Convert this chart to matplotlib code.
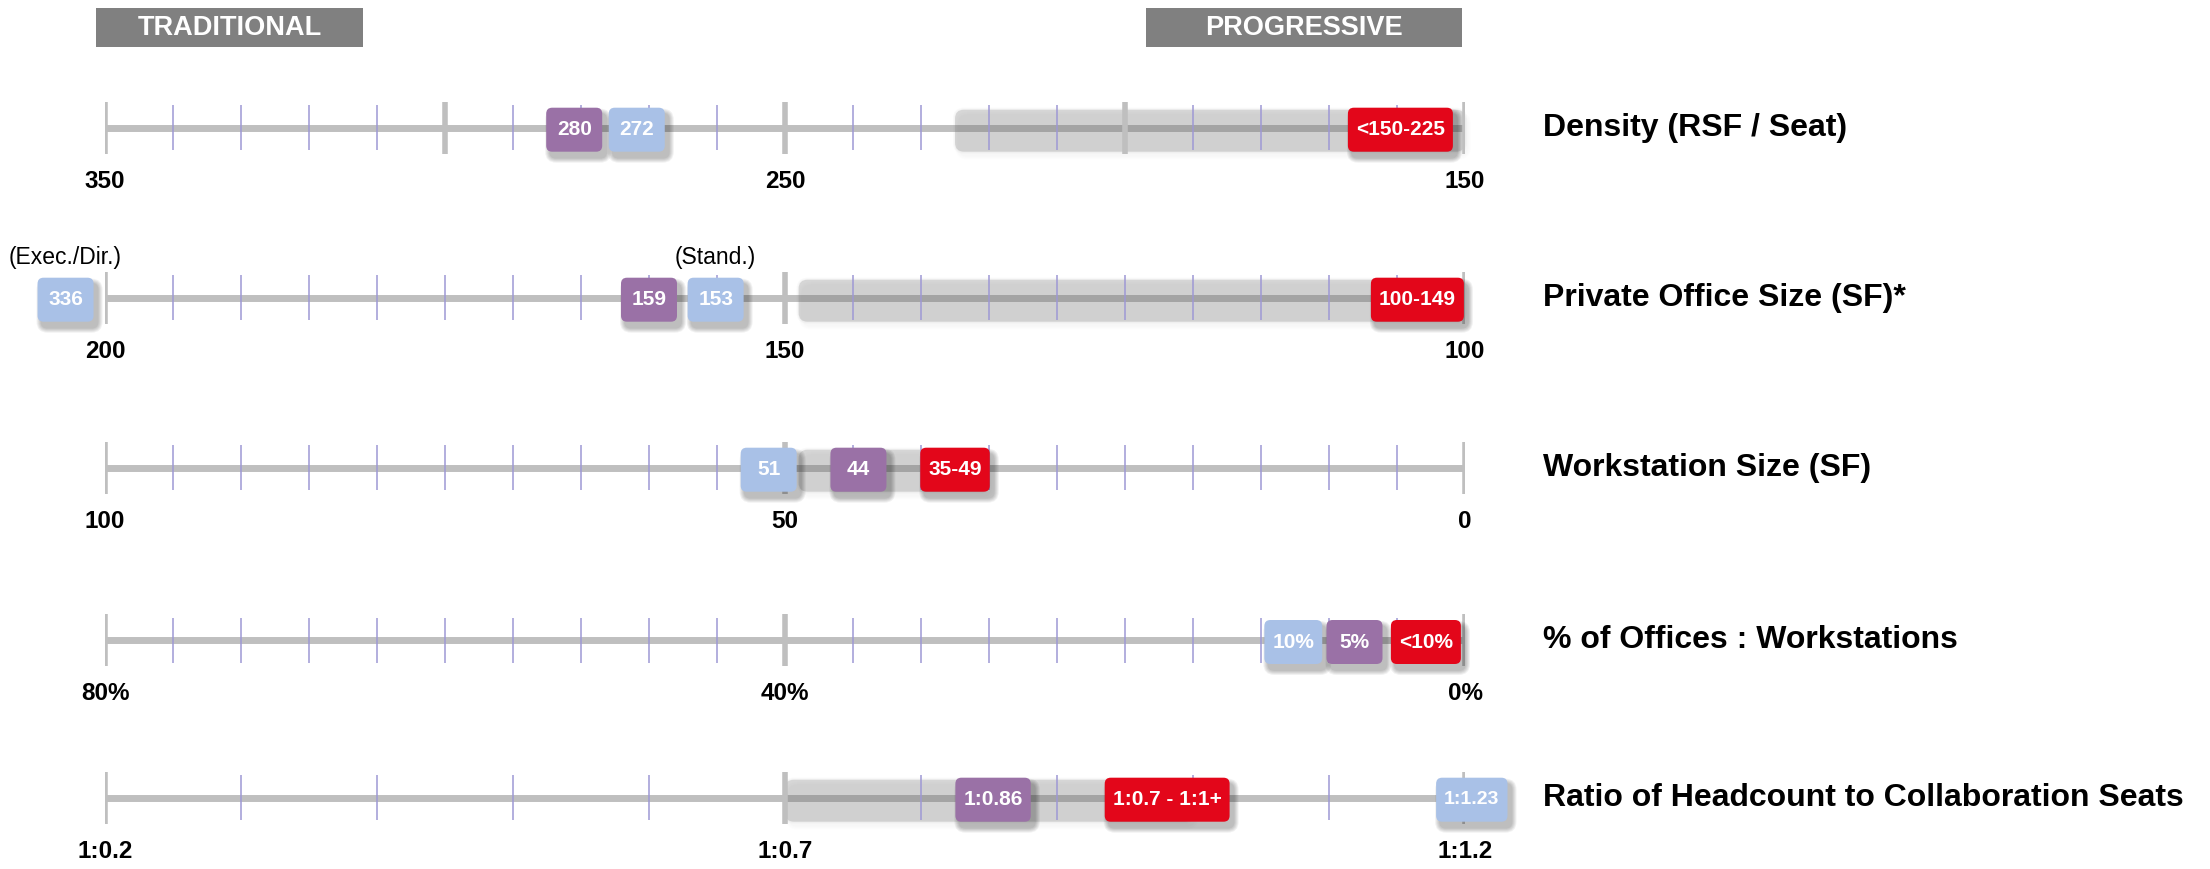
import matplotlib
matplotlib.use("Agg")
import matplotlib.pyplot as plt
from matplotlib.patches import FancyBboxPatch, Rectangle
import matplotlib.transforms as mtransforms
import numpy as np

# ---------------- data ----------------
row_titles = ["Density (RSF / Seat)",
              "Private Office Size (SF)*",
              "Workstation Size (SF)",
              "% of Offices : Workstations",
              "Ratio of Headcount to Collaboration Seats"]
scale_start = [350, 200, 100, 80, 0.2]
scale_end = [150, 100, 0, 0, 1.2]
end_labels = [["350", "250", "150"],
              ["200", "150", "100"],
              ["100", "50", "0"],
              ["80%", "40%", "0%"],
              ["1:0.2", "1:0.7", "1:1.2"]]
minor_step = [10, 5, 5, 4, 0.1]
major_step = [50, 50, 50, 40, 0.5]
target_ranges = [(225, 150), (149, 100), (49, 35), None, (0.7, 1.0)]

density_labels = ["280", "272", "<150-225"]
density_at = [281, 271.8, 159.5]
density_kind = ["current", "benchmark", "target"]

office_labels = ["336", "159", "153", "100-149"]
office_at = [202.9, 160, 155.1, 103.5]
office_kind = ["benchmark", "current", "benchmark", "target"]
office_notes = ["(Exec./Dir.)", "", "(Stand.)", ""]

workstation_labels = ["51", "44", "35-49"]
workstation_at = [51.2, 44.6, 37.5]
workstation_kind = ["benchmark", "current", "target"]

offices_labels = ["10%", "5%", "<10%"]
offices_at = [10.1, 6.5, 2.3]
offices_kind = ["benchmark", "current", "target"]

ratio_labels = ["1:0.86", "1:0.7 - 1:1+", "1:1.23"]
ratio_at = [0.853, 0.981, 1.205]
ratio_kind = ["current", "target", "benchmark"]

markers = [
    (density_labels, density_at, density_kind, None),
    (office_labels, office_at, office_kind, office_notes),
    (workstation_labels, workstation_at, workstation_kind, None),
    (offices_labels, offices_at, offices_kind, None),
    (ratio_labels, ratio_at, ratio_kind, None),
]

header_labels = ["TRADITIONAL", "PROGRESSIVE"]

# ---------------- style ----------------
W, H, DPI = 2210, 869, 100
kind_colors = {"current": "#9A71A6", "benchmark": "#A9C1E7", "target": "#E3061A"}
LINE_C = "#bfbfbf"
MINOR_C = "#9e98d4"
BOLD = ["Liberation Sans", "DejaVu Sans"]

row_y_px = [127.7, 297.7, 467.7, 640, 797.7]
AX_X0, AX_X1 = 105, 1465
AX_H = 100

fig = plt.figure(figsize=(W / DPI, H / DPI), dpi=DPI)
fig.patch.set_facecolor("white")


def place(ax, xd, yd):
    return fig.dpi_scale_trans + mtransforms.ScaledTranslation(xd, yd, ax.transData)


def rbox(ax, xd, yd, w, h, color, z, alpha=1.0, r=6, dx=0, dy=0):
    p = FancyBboxPatch(((-w / 2 + dx) / DPI, (-h / 2 + dy) / DPI), w / DPI, h / DPI,
                       boxstyle="round,pad=0,rounding_size=%f" % (r / DPI),
                       transform=place(ax, xd, yd), facecolor=color,
                       edgecolor="none", alpha=alpha, zorder=z, clip_on=False)
    ax.add_patch(p)
    return p


renderer = fig.canvas.get_renderer()

for i in range(5):
    y = row_y_px[i]
    ax = fig.add_axes([AX_X0 / W, (H - y - AX_H / 2) / H, (AX_X1 - AX_X0) / W, AX_H / H])
    s, e = scale_start[i], scale_end[i]
    ax.set_xlim(s, e)
    ax.set_ylim(-AX_H / 2, AX_H / 2)
    ax.axis("off")

    # axis line
    ax.plot([s, e], [0, 0], color=LINE_C, lw=5, solid_capstyle="butt", zorder=1)
    sign = 1 if e > s else -1
    n_minor = int(round(abs(e - s) / minor_step[i]))
    minor = [s + sign * minor_step[i] * k for k in range(n_minor + 1)]
    n_major = int(round(abs(e - s) / major_step[i]))
    major = [s + sign * major_step[i] * k for k in range(n_major + 1)]
    ax.vlines(minor, -22.5, 22.5, color=MINOR_C, lw=1.1, zorder=3)
    ax.vlines(major, -26, 26, color=LINE_C, lw=4, zorder=3.5)

    # target band
    rng = target_ranges[i]
    if rng is not None:
        xa = ax.transData.transform((rng[0], 0))[0]
        xb = ax.transData.transform((rng[1], 0))[0]
        bw = abs(xb - xa)
        mid = (rng[0] + rng[1]) / 2
        for k in range(4):
            rbox(ax, mid, -3, bw + 2 * k, 42 + 2 * k, "#000000", 2, alpha=0.008, r=10 + k,
                 dx=3, dy=-5)
        rbox(ax, mid, -3, bw, 42, "#7c7c7c", 2.1, alpha=0.25, r=9)
        for k in range(1, 3):
            rbox(ax, mid, -3, bw + 2 * k, 42 + 2 * k, "#7c7c7c", 2.1, alpha=0.035, r=9 + k)

    # end labels
    mids = [s, (s + e) / 2, e]
    for v, lab in zip(mids, end_labels[i]):
        ax.text(v, -54, lab, ha="center", va="center", fontsize=17.5,
                fontweight="bold", family=BOLD, color="black", zorder=5)

    # row title
    tr = mtransforms.blended_transform_factory(ax.transAxes, ax.transData)
    ax.text((1543 - AX_X0) / (AX_X1 - AX_X0), 0, row_titles[i], transform=tr,
            ha="left", va="center", fontsize=23, fontweight="bold",
            family=BOLD, color="black")

    # markers
    labs, ats, kinds, notes = markers[i]
    for j, (lab, at, kd) in enumerate(zip(labs, ats, kinds)):
        fs = 14 if lab == "1:1.23" else 15
        t = ax.text(at, -2, lab, ha="center", va="center", fontsize=fs,
                    fontweight="bold", family=BOLD, color="white", zorder=10 + j * 2 + 1,
                    clip_on=False)
        tw = t.get_window_extent(renderer=renderer).width
        bw = max(56, tw + 16)
        bh = 44
        for k in range(1, 6):
            rbox(ax, at, -2, bw + 2 * k, bh + 2 * k, "#000000", 9 + j * 2, alpha=0.055,
                 r=6 + k, dx=4, dy=-6)
        rbox(ax, at, -2, bw, bh, kind_colors[kd], 10 + j * 2)
        if notes is not None and notes[j]:
            ax.text(at, 40, notes[j], ha="center", va="center",
                    fontsize=16.5, family=["Liberation Sans", "DejaVu Sans"],
                    color="black", clip_on=False)

# headers
header_px = [(96, 363), (1146, 1462)]
for lab, (x0, x1) in zip(header_labels, header_px):
    fig.add_artist(Rectangle((x0 / W, (H - 47) / H), (x1 - x0) / W, 39 / H,
                             transform=fig.transFigure, facecolor="#808080",
                             edgecolor="none"))
    fig.text((x0 + x1) / 2 / W, (H - 28) / H, lab, ha="center", va="center",
             color="white", fontsize=19.5, fontweight="bold", family=BOLD)

fig.savefig("out.png", dpi=DPI, facecolor="white")
